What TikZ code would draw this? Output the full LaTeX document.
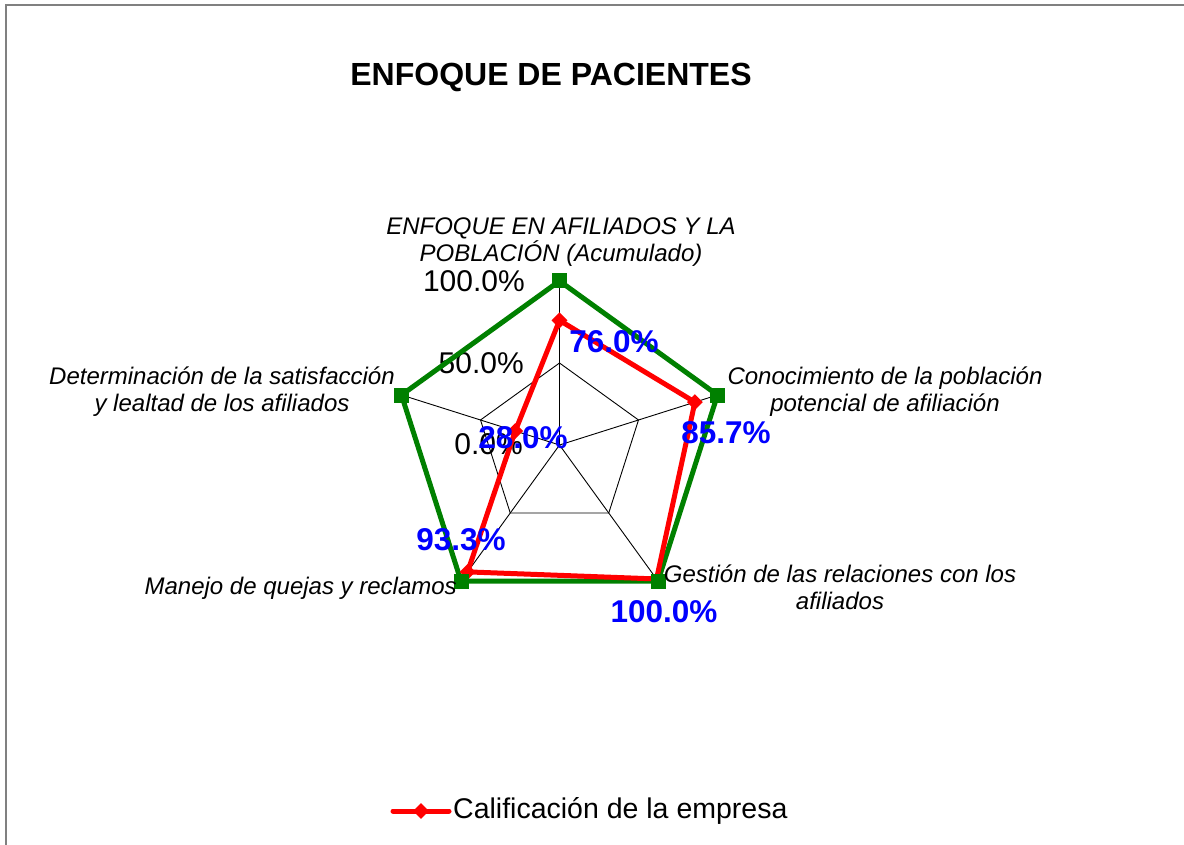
\documentclass[tikz,border=0pt]{standalone}
\usepackage{fontspec}
\setmainfont{Liberation Sans}
\usetikzlibrary{calc,shapes.geometric}
\definecolor{serieGreen}{RGB}{0,128,0}
\definecolor{serieRed}{RGB}{255,0,0}
\definecolor{labBlue}{RGB}{0,0,255}
\definecolor{frameGray}{RGB}{128,128,128}
\tikzset{
  gridline/.style={black, line width=0.9pt},
  greenline/.style={serieGreen, line width=5pt, line join=miter},
  redline/.style={serieRed, line width=5pt, line join=round},
  greenmark/.style={fill=serieGreen, draw=none, rectangle, minimum size=15pt, inner sep=0pt},
  redmark/.style={fill=serieRed, draw=none, diamond, minimum size=16pt, inner sep=0pt},
  catlabel/.style={font=\fontsize{24}{27}\selectfont\itshape, align=center, inner sep=0pt},
  axislabel/.style={font=\fontsize{30}{33}\selectfont, anchor=east, inner sep=0pt},
  datalabel/.style={font=\fontsize{31.5}{34}\selectfont\bfseries, text=labBlue, inner sep=0pt},
}
\begin{document}
\begin{tikzpicture}[x=1pt,y=-1pt]
\useasboundingbox (0,0) rectangle (1184,845);
\fill[white] (0,0) rectangle (1184,845);
\draw[frameGray, line width=1.5pt] (6,845) -- (6,5) -- (1184,5);

% title
\node[font=\fontsize{32}{36}\selectfont\bfseries, inner sep=0pt] (title) at (551,77) {ENFOQUE DE PACIENTES};

% geometry
\coordinate (O) at (559.5,445);
\coordinate (V1) at (559.5,281);
\coordinate (V2) at (717.5,395);
\coordinate (V3) at (658,581);
\coordinate (V4) at (461,581);
\coordinate (V5) at (401.5,395);
\foreach \i in {1,...,5} {\coordinate (H\i) at ($(O)!0.5!(V\i)$);}

% grid
\foreach \i in {1,...,5} {\draw[gridline] (O) -- (V\i);}
\draw[gridline] (H1) -- (H2) -- (H3) -- (H4) -- (H5) -- cycle;
\draw[gridline] (V1) -- (V2) -- (V3) -- (V4) -- (V5) -- cycle;

% axis labels
\node[axislabel] (ax100) at (525,281) {100.0\%};
\node[axislabel] (ax50) at (524,363) {50.0\%};
\node[axislabel] (ax0) at (523,444) {0.0\%};

% green series (100%)
\draw[greenline] (V1) -- (V2) -- (V3) -- (V4) -- (V5) -- cycle;

% red series
\coordinate (R1) at ($(O)!0.76!(V1)$);
\coordinate (R2) at ($(O)!0.857!(V2)$);
\coordinate (R3) at ($(O)!0.985!(V3)$);
\coordinate (R4) at ($(O)!0.933!(V4)$);
\coordinate (R5) at ($(O)!0.28!(V5)$);
\draw[redline] (R1) -- (R2) -- (R3) -- (R4) -- (R5) -- cycle;
\foreach \i in {1,2,4,5} {\node[redmark] (rm\i) at (R\i) {};}
\foreach \i in {1,...,5} {\node[greenmark] (gm\i) at (V\i) {};}

% category labels
\node[catlabel] (c1) at (561,242) {ENFOQUE EN AFILIADOS Y LA\\POBLACIÓN (Acumulado)};
\node[catlabel] (c2) at (885,392) {Conocimiento de la población\\potencial de afiliación};
\node[catlabel] (c3) at (840,587) {Gestión de las relaciones con los\\afiliados};
\node[catlabel, anchor=east] (c4) at (457,588) {Manejo de quejas y reclamos};
\node[catlabel] (c5) at (222,392) {Determinación de la satisfacción\\y lealtad de los afiliados};

% data labels
\node[datalabel] (d1) at (614,342) {76.0\%};
\node[datalabel] (d2) at (726,433) {85.7\%};
\node[datalabel] (d3) at (664,612) {100.0\%};
\node[datalabel] (d4) at (461,540) {93.3\%};
\node[datalabel] (d5) at (523,438) {28.0\%};

% legend
\coordinate (L1) at (393,811);
\coordinate (L2) at (449,811);
\draw[redline, line cap=round] (L1) -- (L2);
\node[redmark] (lm) at ($(L1)!0.5!(L2)$) {};
\node[font=\fontsize{28.5}{32}\selectfont, anchor=west, inner sep=0pt] (leg) at (453,811) {Calificación de la empresa};
\end{tikzpicture}
\end{document}
